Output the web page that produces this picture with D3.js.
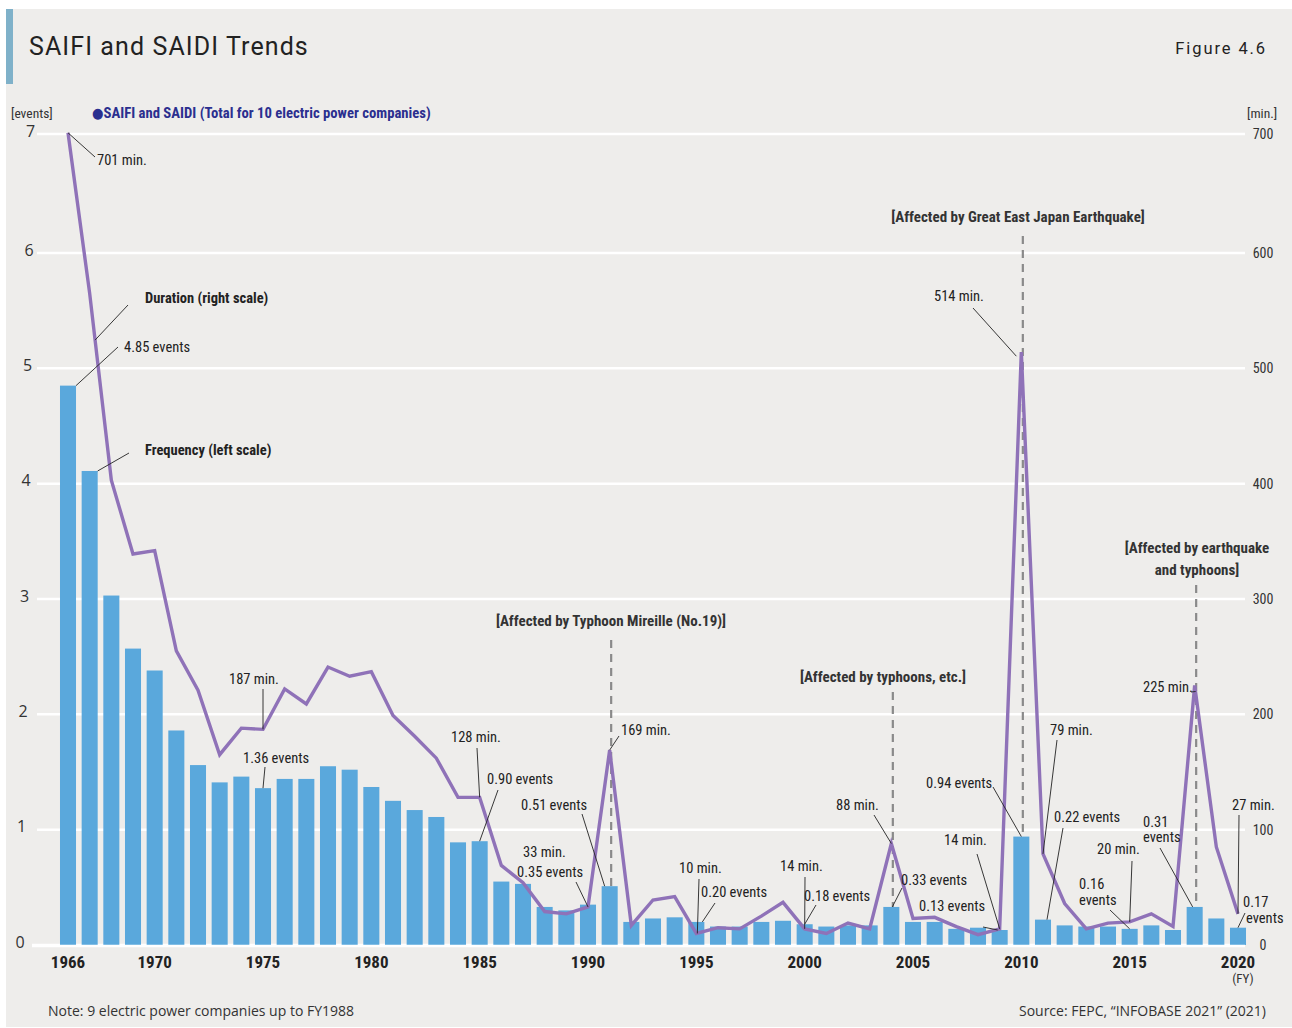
<!DOCTYPE html>
<html><head><meta charset="utf-8">
<script src="https://cdn.jsdelivr.net/npm/d3@7"></script>
<style>
html,body{margin:0;padding:0;background:#fff;}
svg{display:block;}
</style></head>
<body>
<script>
// ---------------- DATA ----------------
const years = [1966,1967,1968,1969,1970,1971,1972,1973,1974,1975,1976,1977,1978,1979,1980,1981,1982,1983,1984,1985,1986,1987,1988,1989,1990,1991,1992,1993,1994,1995,1996,1997,1998,1999,2000,2001,2002,2003,2004,2005,2006,2007,2008,2009,2010,2011,2012,2013,2014,2015,2016,2017,2018,2019,2020];
// SAIFI: frequency of outages (events per customer) — left scale
const saifi = [4.85,4.11,3.03,2.57,2.38,1.86,1.56,1.41,1.46,1.36,1.44,1.44,1.55,1.52,1.37,1.25,1.17,1.11,0.89,0.90,0.55,0.53,0.33,0.30,0.35,0.51,0.20,0.23,0.24,0.20,0.16,0.16,0.20,0.21,0.18,0.16,0.17,0.17,0.33,0.20,0.20,0.14,0.15,0.13,0.94,0.22,0.17,0.16,0.16,0.14,0.17,0.13,0.33,0.23,0.15];
// SAIDI: duration of outages (minutes per customer) — right scale
const saidi = [701,565,403,339,342,255,221,165,188,187,222,209,241,233,237,199,181,162,128,128,69,54,29,27,33,169,17,39,42,10,15,14,25,37,14,10,19,14,88,23,24,16,9,14,514,79,36,14,19,20,27,16,225,85,27];
const leftTicks = [0,1,2,3,4,5,6,7];
const rightTicks = [0,100,200,300,400,500,600,700];
const yearTicks = [1966,1970,1975,1980,1985,1990,1995,2000,2005,2010,2015,2020];
const eventYears = [1991,2004,2010,2018];
const eventLabels = [["[Affected by Typhoon Mireille (No.19)]"],["[Affected by typhoons, etc.]"],["[Affected by Great East Japan Earthquake]"],["[Affected by earthquake","and typhoons]"]];

// ---------------- SETUP ----------------
const W = 1292, H = 1028;
const COND = "'Liberation Sans Narrow','Arial Narrow','Roboto Condensed','DejaVu Sans Condensed',sans-serif";
const REG = "'Open Sans','Noto Sans',sans-serif";
const svg = d3.select("body").append("svg").attr("width", W).attr("height", H);

svg.append("rect").attr("x",6).attr("y",9).attr("width",W-6).attr("height",1018).attr("fill","#eeedeb");
svg.append("rect").attr("x",6).attr("y",9).attr("width",7).attr("height",75).attr("fill","#7fb1c9");

svg.append("text").attr("x",29).attr("y",55).text("SAIFI and SAIDI Trends")
  .attr("font-family","Roboto, 'DejaVu Sans', sans-serif").attr("font-size",25).attr("letter-spacing",1.1).attr("fill","#222");
svg.append("text").attr("x",1267).attr("y",54).attr("text-anchor","end").text("Figure 4.6")
  .attr("font-family","Roboto, 'DejaVu Sans', sans-serif").attr("font-size",16.5).attr("letter-spacing",1.9).attr("fill","#222");

const x = d3.scaleBand().domain(years).range([57.17, 1248.83]).paddingInner(0.26).paddingOuter(0.13);
const bw = x.bandwidth();
const xc = y => x(y) + bw/2;
const yL = d3.scaleLinear().domain([0,6,7]).range([945,253,134]);
const yR = d3.scaleLinear().domain([0,600,700]).range([945,253,134]);
const val = (arr, yr) => arr[years.indexOf(yr)];

// gridlines
svg.append("g").selectAll("line").data(leftTicks).join("line")
  .attr("x1", d => d===0 ? 32 : 37).attr("x2",1245)
  .attr("y1", d => yL(d)).attr("y2", d => yL(d))
  .attr("stroke","#fff").attr("stroke-width",2.5);

// left axis labels
svg.append("g").selectAll("text").data(leftTicks).join("text")
  .attr("x", d => 20 + d*1.5).attr("y", d => yL(d)+1).attr("dy","0.1em")
  .attr("text-anchor","middle").attr("font-family",REG).attr("font-size",16).attr("fill","#333").text(d=>d);
// right axis labels
svg.append("g").selectAll("text").data(rightTicks).join("text")
  .attr("x", 1263).attr("y", d => yR(d)).attr("dy","0.35em")
  .attr("text-anchor","middle").attr("font-family",COND).attr("font-size",14).attr("fill","#333").text(d=>d);

svg.append("text").attr("x",11).attr("y",118).text("[events]").attr("font-family",COND).attr("font-size",13.5).attr("fill","#333");
svg.append("text").attr("x",1247).attr("y",118).text("[min.]").attr("font-family",COND).attr("font-size",13.5).attr("fill","#333");
svg.append("text").attr("x",92).attr("y",118).text("●SAIFI and SAIDI (Total for 10 electric power companies)")
  .attr("font-family",COND).attr("font-weight","bold").attr("font-size",14.7).attr("fill","#2b2f8f");

// dashed event lines
const dashTop = {1991:640, 2004:692, 2010:236, 2018:585};
svg.append("g").selectAll("line").data(eventYears).join("line")
  .attr("x1", d => xc(d)+1.5).attr("x2", d => xc(d)+1.5)
  .attr("y1", d => dashTop[d]).attr("y2", 944)
  .attr("stroke","#8a8a8a").attr("stroke-width",2.2).attr("stroke-dasharray","8,6");

// event labels
const evPos = {1991:[611,626], 2004:[883,682], 2010:[1018,222], 2018:[1197,553]};
eventYears.forEach((yr,i) => {
  const t = svg.append("text").attr("text-anchor","middle").attr("font-family",COND).attr("font-weight","bold")
    .attr("font-size",15).attr("fill","#333");
  eventLabels[i].forEach((ln,j) => t.append("tspan").attr("x",evPos[yr][0]).attr("y",evPos[yr][1]+j*22).text(ln));
});

// bars
svg.append("g").selectAll("rect").data(years).join("rect")
  .attr("x", d => x(d)).attr("width", bw)
  .attr("y", (d,i) => yL(saifi[i])).attr("height", (d,i) => yL(0) - yL(saifi[i]))
  .attr("fill","#5aa8dc");

// line
const line = d3.line().x((d,i) => xc(years[i])).y(d => yR(d));
svg.append("path").datum(saidi).attr("d", line).attr("fill","none")
  .attr("stroke","#8f72b8").attr("stroke-width",3.4).attr("stroke-linejoin","miter");

// baseline
svg.append("line").attr("x1",32).attr("x2",1245).attr("y1",yL(0)+1).attr("y2",yL(0)+1).attr("stroke","#fff").attr("stroke-width",2.5);

// year labels
svg.append("g").selectAll("text").data(yearTicks).join("text")
  .attr("x", d => xc(d)).attr("y", 968).attr("text-anchor","middle")
  .attr("font-family",COND).attr("font-weight","bold").attr("font-size",17).attr("fill","#222").text(d=>d);
svg.append("text").attr("x",xc(2020)+5).attr("y",983).attr("text-anchor","middle").text("(FY)")
  .attr("font-family",COND).attr("font-size",13).attr("fill","#333");

// annotations
const ag = svg.append("g");
function lab(tx, ty, lines, opts={}) {
  const t = ag.append("text").attr("font-family",COND).attr("font-size",opts.size||14.5).attr("fill","#222")
    .attr("font-weight",opts.bold?"bold":"normal").attr("text-anchor",opts.anchor||"start");
  lines.forEach((ln,j) => t.append("tspan").attr("x",tx).attr("y",ty+j*(opts.lh||16)).text(ln));
}
function lead(x1,y1,x2,y2){
  ag.append("line").attr("x1",x1).attr("y1",y1).attr("x2",x2).attr("y2",y2).attr("stroke","#222").attr("stroke-width",0.9);
}
const pS = yr => [xc(yr), yR(val(saidi,yr))];
const pF = yr => [xc(yr), yL(val(saifi,yr))];

lab(97,165,["701 min."]); lead(95,157, ...pS(1966));
{ const a = pS(1967), b = pS(1968); const t=0.25;
  lab(145,303,["Duration (right scale)"],{bold:true}); lead(128,305, a[0]+(b[0]-a[0])*t, a[1]+(b[1]-a[1])*t); }
lab(124,352,["4.85 events"]); lead(118,347, x(1966)+bw, yL(val(saifi,1966)));
lab(145,455,["Frequency (left scale)"],{bold:true}); lead(129,453, x(1967)+bw, yL(val(saifi,1967)));
lab(229,684,["187 min."]); lead(263,689, ...pS(1975));
lab(243,763,["1.36 events"]); lead(265,767, ...pF(1975));
lab(451,742,["128 min."]); lead(477,748, ...pS(1985));
lab(487,784,["0.90 events"]); lead(498,790, ...pF(1985));
lab(521,810,["0.51 events"]); lead(582,814, xc(1991)-5, yL(val(saifi,1991)));
lab(523,857,["33 min."]); lab(517,877,["0.35 events"]); lead(576,882, ...pS(1990));
lab(621,735,["169 min."]); lead(619,736, ...pS(1991));
lab(679,873,["10 min."]); lead(699,879, xc(1995)+1, yR(val(saidi,1995)));
lab(701,897,["0.20 events"]); lead(715,903, xc(1995)+6, yL(val(saifi,1995)));
lab(780,871,["14 min."]); lead(805,877, ...pS(2000));
lab(804,901,["0.18 events"]); lead(816,905, ...pF(2000));
lab(836,810,["88 min."]); lead(874,815, ...pS(2004));
lab(901,885,["0.33 events"]); lead(902,888, xc(2004)+1, yL(val(saifi,2004)));
lab(919,911,["0.13 events"]); lead(983,927, xc(2009)-2, yL(val(saifi,2009)));
lab(944,845,["14 min."]); lead(977,854, ...pS(2009));
lab(926,788,["0.94 events"]); lead(993,787, ...pF(2010));
lab(934,301,["514 min."]); lead(973,308, xc(2010)-5, yR(val(saidi,2010))+4);
lab(1050,735,["79 min."]); lead(1057,740, ...pS(2011));
lab(1054,822,["0.22 events"]); lead(1063,828, xc(2011)+4, yL(val(saifi,2011)));
lab(1079,889,["0.16","events"]); lead(1110,910, ...pF(2015));
lab(1097,854,["20 min."]); lead(1132,861, ...pS(2015));
lab(1143,827,["0.31","events"],{lh:15}); lead(1160,848, xc(2018)-2, yL(val(saifi,2018)));
lab(1143,692,["225 min."]); lead(1191,692, xc(2018)+1, yR(val(saidi,2018))+6);
lab(1232,810,["27 min."]); lead(1239,815, ...pS(2020));
lab(1243,907,["0.17"]); lab(1246,923,["events"]); lead(1245,913, xc(2020), yL(val(saifi,2020)));

// footer
svg.append("text").attr("x",48).attr("y",1016).text("Note: 9 electric power companies up to FY1988")
  .attr("font-family",REG).attr("font-size",14).attr("fill","#333");
svg.append("text").attr("x",1266).attr("y",1016).attr("text-anchor","end").text("Source: FEPC, “INFOBASE 2021” (2021)")
  .attr("font-family",REG).attr("font-size",14).attr("fill","#333");
</script>
</body></html>
